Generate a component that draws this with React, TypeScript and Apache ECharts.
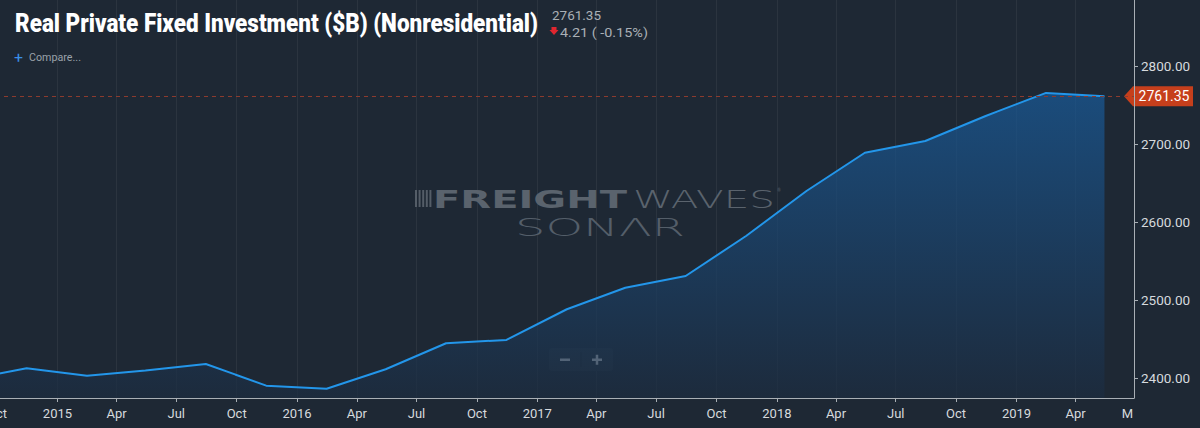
import React, { useEffect, useRef } from "react";
import * as echarts from "echarts";

const TITLE = "Real Private Fixed Investment ($B) (Nonresidential)";
const LAST_PRICE_TEXT = "2761.35";
const CHANGE_TEXT = "4.21 ( -0.15%)";
const COMPARE_TEXT = "Compare...";

// quarterly observations (plotted mid-quarter)
const dates = [
  "2014-08-15", "2014-11-15", "2015-02-15", "2015-05-15", "2015-08-15",
  "2015-11-15", "2016-02-15", "2016-05-15", "2016-08-15", "2016-11-15",
  "2017-02-15", "2017-05-15", "2017-08-15", "2017-11-15", "2018-02-15",
  "2018-05-15", "2018-08-15", "2018-11-15", "2019-02-15", "2019-05-15",
];
const values = [
  2398.3, 2413.1, 2403.6, 2410.2, 2418.6,
  2390.8, 2386.9, 2411.8, 2445.1, 2449.3,
  2488.6, 2516.2, 2531.2, 2582.4, 2640.0,
  2689.0, 2704.0, 2736.0, 2765.56, 2761.35,
];

const xTickDates = [
  "2014-10-01", "2015-01-01", "2015-04-01", "2015-07-01", "2015-10-01",
  "2016-01-01", "2016-04-01", "2016-07-01", "2016-10-01", "2017-01-01",
  "2017-04-01", "2017-07-01", "2017-10-01", "2018-01-01", "2018-04-01",
  "2018-07-01", "2018-10-01", "2019-01-01", "2019-04-01",
];
const xTickLabels = [
  "Oct", "2015", "Apr", "Jul", "Oct",
  "2016", "Apr", "Jul", "Oct", "2017",
  "Apr", "Jul", "Oct", "2018", "Apr",
  "Jul", "Oct", "2019", "Apr",
];
const xEdgeLabelDate = "2019-06-19";
const xEdgeLabel = "M";
const X_MIN = "2014-09-05";
const X_MAX = "2019-06-29";

const yTicks = [2400, 2500, 2600, 2700, 2800];
const Y_MIN = 2375;
const Y_MAX = 2884.5;

const BG = "#1e2834";
const OFFSET = 20; // chart div is shifted left so the clipped "Oct" label shows

const ts = (d: string) => new Date(d + "T00:00:00Z").getTime();

function measure(text: string, font: string): number {
  const c = document.createElement("canvas");
  const ctx = c.getContext("2d")!;
  ctx.font = font;
  return ctx.measureText(text).width || 1;
}

function fitText(text: string, font: string, x: number, y: number, width: number, fill: string, extra: any = {}) {
  const w = measure(text, font);
  return {
    type: "text",
    x: x + OFFSET,
    y,
    scaleX: width / w,
    silent: true,
    style: { text, font, fill, textAlign: "left", textVerticalAlign: "middle" },
    ...extra,
  };
}

export default function App() {
  const ref = useRef<HTMLDivElement>(null);

  useEffect(() => {
    document.body.style.margin = "0";
    document.body.style.background = BG;
    const chart = echarts.init(ref.current!, undefined, { renderer: "svg" });

    const labelMap = new Map<number, string>();
    xTickDates.forEach((d, i) => labelMap.set(ts(d), xTickLabels[i]));
    labelMap.set(ts(xEdgeLabelDate), xEdgeLabel);

    const seriesData = dates.map((d, i) => [ts(d), values[i]]);
    const last = values[values.length - 1];

    chart.setOption({
      animation: false,
      backgroundColor: BG,
      textStyle: { fontFamily: "Roboto" },
      grid: { left: 0, right: 1220 - (1134 + OFFSET), top: 0, bottom: 30, containLabel: false },
      xAxis: {
        type: "value",
        min: ts(X_MIN),
        max: ts(X_MAX),
        axisLine: { show: true, lineStyle: { color: "#a9afb5", width: 1 } },
        axisTick: {
          show: true,
          length: 4,
          lineStyle: { color: "#a9afb5" },
          customValues: xTickDates.map(ts),
        },
        axisLabel: {
          color: "#d6dade",
          fontSize: 13,
          fontFamily: "Roboto",
          margin: 9,
          showMinLabel: true,
          showMaxLabel: true,
          customValues: [...xTickDates.map(ts), ts(xEdgeLabelDate)],
          formatter: (v: number) => labelMap.get(v) ?? "",
        },
        splitLine: { show: true, lineStyle: { color: "rgba(255,255,255,0.06)", width: 1 } },
      },
      yAxis: {
        type: "value",
        position: "right",
        min: Y_MIN,
        max: Y_MAX,
        axisLine: { show: true, lineStyle: { color: "#a9afb5", width: 1 } },
        axisTick: { show: true, length: 4, lineStyle: { color: "#a9afb5" }, customValues: yTicks },
        axisLabel: {
          color: "#d6dade",
          fontSize: 13.5,
          fontFamily: "Roboto",
          margin: 7,
          customValues: yTicks,
          formatter: (v: number) => v.toFixed(2),
        },
        splitLine: { show: false },
      },
      series: [
        {
          type: "line",
          data: seriesData,
          showSymbol: false,
          symbol: "none",
          lineStyle: { color: "#2396ea", width: 2 },
          areaStyle: {
            color: new echarts.graphic.LinearGradient(0, 0, 0, 1, [
              { offset: 0, color: "#195b9a" },
              { offset: 1, color: "#1c2c40" },
            ]),
          },
          markLine: {
            silent: true,
            symbol: "none",
            label: { show: false },
            lineStyle: { color: "#8c3b2e", type: [4, 4], width: 1 },
            data: [{ yAxis: last }],
          },
        },
      ],
    });

    const py = chart.convertToPixel({ yAxisIndex: 0 }, last) as number;
    const tagL = 1124 + OFFSET;
    const tagB = 1133 + OFFSET;
    const tagR = 1193 + OFFSET;

    const wmColor = "#5a636d";
    const iconBars = [0, 1, 2, 3, 4].map((i) => ({
      type: "rect",
      silent: true,
      shape: { x: 415 + OFFSET + i * 3.6, y: 190, width: 2, height: 17 },
      style: { fill: wmColor, opacity: 0.9 },
    }));

    chart.setOption({
      graphic: [
        fitText(TITLE, "900 25px Roboto", 15, 24, 523, "#ffffff"),
        fitText(LAST_PRICE_TEXT, "12px Roboto", 552, 16, 49, "#aab0b6"),
        {
          type: "polygon",
          silent: true,
          shape: { points: [[551.5 + OFFSET, 27], [556.5 + OFFSET, 27], [556.5 + OFFSET, 30], [558.5 + OFFSET, 30], [554 + OFFSET, 35], [549.5 + OFFSET, 30], [551.5 + OFFSET, 30]] },
          style: { fill: "#e0262f" },
        },
        fitText(CHANGE_TEXT, "12px Roboto", 560, 33, 88, "#aab0b6"),
        fitText("+", "15px Roboto", 14, 58, 9, "#3a8fe6"),
        fitText(COMPARE_TEXT, "10px Roboto", 29, 58, 52, "#9aa2aa"),
        // watermark
        ...iconBars,
        fitText("FREIGHT", "900 25px 'DejaVu Sans'", 433, 199, 194, wmColor),
        fitText("WAVES", "200 25px 'DejaVu Sans'", 633, 199, 142, wmColor),
        fitText("®", "6px 'DejaVu Sans'", 777, 190, 4, wmColor),
        fitText("SONΛR", "200 25px 'DejaVu Sans'", 515, 227, 170, "#545e69"),
        // zoom buttons
        {
          type: "rect",
          silent: true,
          shape: { x: 549 + OFFSET, y: 348, width: 64, height: 23, r: 3 },
          style: { fill: "#26313d" },
        },
        {
          type: "line",
          silent: true,
          shape: { x1: 581 + OFFSET, y1: 352, x2: 581 + OFFSET, y2: 367 },
          style: { stroke: "#1d2631", lineWidth: 1 },
        },
        {
          type: "rect",
          silent: true,
          shape: { x: 560 + OFFSET, y: 358.5, width: 10, height: 2.5 },
          style: { fill: "#d4d8dc" },
        },
        {
          type: "rect",
          silent: true,
          shape: { x: 592 + OFFSET, y: 358.5, width: 10, height: 2.5 },
          style: { fill: "#d4d8dc" },
        },
        {
          type: "rect",
          silent: true,
          shape: { x: 595.75 + OFFSET, y: 354.75, width: 2.5, height: 10 },
          style: { fill: "#d4d8dc" },
        },
        // last price tag
        {
          type: "polygon",
          silent: true,
          shape: {
            points: [
              [tagL, py],
              [tagB, py - 10],
              [tagR, py - 10],
              [tagR, py + 10],
              [tagB, py + 10],
            ],
          },
          style: { fill: "#c63f1c" },
        },
        {
          type: "text",
          silent: true,
          x: (tagB + tagR) / 2 + 1,
          y: py,
          style: {
            text: last.toFixed(2),
            font: "14px Roboto",
            fill: "#ffffff",
            textAlign: "center",
            textVerticalAlign: "middle",
          },
        },
      ],
    });

    return () => chart.dispose();
  }, []);

  return (
    <div
      ref={ref}
      style={{ position: "fixed", left: -OFFSET, top: 0, width: 1200 + OFFSET, height: 428 }}
    />
  );
}
